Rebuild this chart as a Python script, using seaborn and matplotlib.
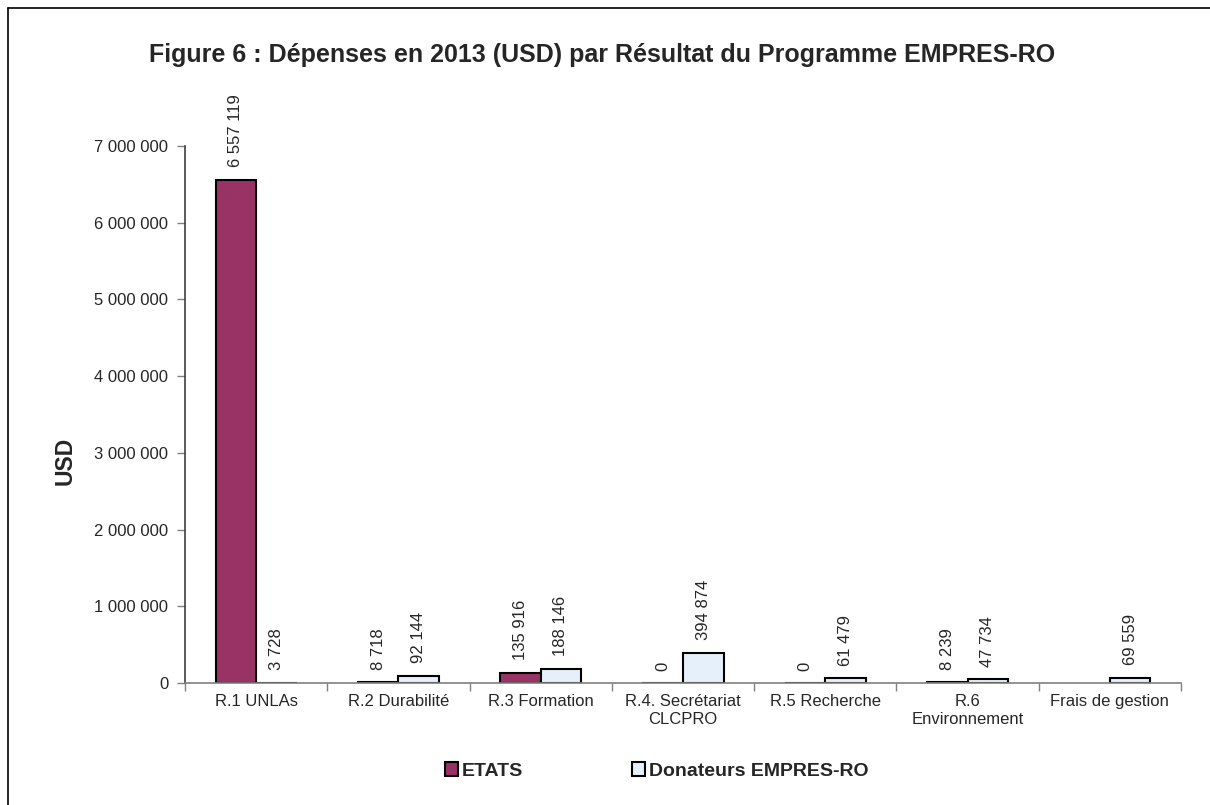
import matplotlib
matplotlib.use("Agg")
import matplotlib.pyplot as plt
import seaborn as sns
import pandas as pd
import numpy as np
from matplotlib.lines import Line2D
from matplotlib.ticker import FuncFormatter

categories = ["R.1 UNLAs", "R.2 Durabilité", "R.3 Formation",
              "R.4. Secrétariat\nCLCPRO", "R.5 Recherche",
              "R.6\nEnvironnement", "Frais de gestion"]
etats = [6557119, 8718, 135916, 0, 0, 8239, np.nan]
donateurs = [3728, 92144, 188146, 394874, 61479, 47734, 69559]
series_names = ["ETATS", "Donateurs EMPRES-RO"]
colors = ["#993366", "#E6F0FB"]
yticks = [0, 1000000, 2000000, 3000000, 4000000, 5000000, 6000000, 7000000]

df = pd.DataFrame({
    "cat": categories * 2,
    "serie": [series_names[0]] * len(categories) + [series_names[1]] * len(categories),
    "val": etats + donateurs,
})

sns.set_theme(style="white")
plt.rcParams["font.family"] = ["Liberation Sans", "DejaVu Sans"]

W, H = 1210, 805
fig = plt.figure(figsize=(W / 100, H / 100), dpi=100)
ax = fig.add_axes([185 / W, 1 - 683 / H, (1181 - 185) / W, (683 - 146) / H])

sns.barplot(data=df, x="cat", y="val", hue="serie", order=categories,
            hue_order=series_names, palette=colors, width=0.57,
            edgecolor="black", linewidth=1.5, saturation=1, ax=ax,
            legend=True, errorbar=None)

fmt = lambda v: f"{v:,.0f}".replace(",", " ")
for cont in ax.containers:
    for b in cont:
        if b is None:
            continue
        h = b.get_height()
        if h is None or np.isnan(h):
            continue
        ax.annotate(fmt(h), (b.get_x() + b.get_width() / 2, h), xytext=(0, 9),
                    textcoords="offset points", rotation=90, ha="center", va="bottom",
                    fontsize=12, annotation_clip=False)

ax.set_xlim(-0.5, len(categories) - 0.5)
ax.set_ylim(0, 7e6)
ax.set_yticks(yticks)
ax.yaxis.set_major_formatter(FuncFormatter(lambda v, p: fmt(v)))
ax.set_xticks(np.arange(len(categories) + 1) - 0.5, minor=True)
ax.tick_params(axis="x", which="major", length=0, labelsize=12, pad=8)
ax.tick_params(axis="x", which="minor", length=6, width=1, color="#808080", direction="out", bottom=True)
ax.tick_params(axis="y", length=6, width=1, color="#808080", direction="out", labelsize=12, pad=6, left=True)
for s in ["top", "right"]:
    ax.spines[s].set_visible(False)
ax.spines["left"].set_color("#404040")
ax.spines["bottom"].set_color("#808080")
for s in ["left", "bottom"]:
    ax.spines[s].set_linewidth(1.2)
ax.set_xlabel("")
ax.set_ylabel("")
fig.text(65 / W, 1 - 461 / H, "USD", rotation=90, ha="center", va="center",
         fontsize=16.5, fontweight="bold")

if ax.legend_ is not None:
    ax.legend_.remove()
handles = [plt.Rectangle((0, 0), 1, 1, facecolor=c, edgecolor="black", linewidth=1.5) for c in colors]
fig.legend(handles, series_names, loc="center", bbox_to_anchor=(657 / W, 1 - 771 / H), ncol=2,
           frameon=False, prop={"weight": "bold", "size": 14}, handlelength=0.67,
           handleheight=0.67, handletextpad=0.2, columnspacing=5.6)

fig.text(602 / W, 1 - 55 / H, "Figure 6 : Dépenses en 2013 (USD) par Résultat du Programme EMPRES-RO",
         ha="center", va="center", fontsize=18, fontweight="bold")

fig.add_artist(Line2D([8 / W, 8 / W], [0, 1 - 8 / H], color="black", lw=1.2, transform=fig.transFigure))
fig.add_artist(Line2D([8 / W, 1], [1 - 8 / H, 1 - 8 / H], color="black", lw=1.2, transform=fig.transFigure))

fig.savefig("out.png", dpi=100)
